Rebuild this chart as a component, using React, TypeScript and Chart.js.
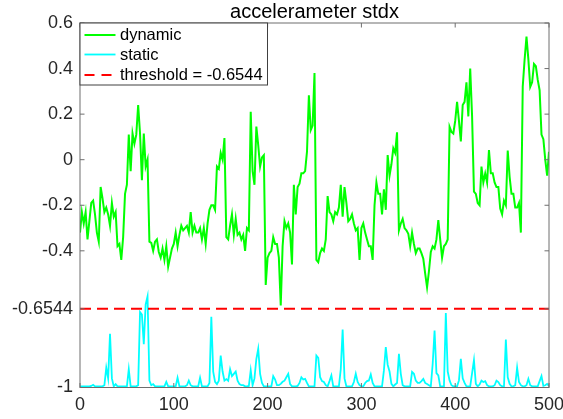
import React, { useEffect, useRef } from 'react';
import { Chart, registerables } from 'chart.js';

Chart.register(...registerables);

const TITLE = 'accelerameter stdx';
const SAMPLE_STEP = 2;
const THRESHOLD = -0.6544;
const seriesNames = ['dynamic', 'static', 'threshold = -0.6544'];
const xTicks = [0, 100, 200, 300, 400, 500];
const xTickLabels = ['0', '100', '200', '300', '400', '500'];
const yTicks = [-1, -0.6544, -0.4, -0.2, 0, 0.2, 0.4, 0.6];
const yTickLabels = ['-1', '-0.6544', '-0.4', '-0.2', '0', '0.2', '0.4', '0.6'];

const dynamicValues = [
  -0.32, -0.23, -0.28, -0.23, -0.35, -0.27, -0.19, -0.18, -0.24, -0.32,
  -0.36, -0.12, -0.17, -0.23, -0.21, -0.24, -0.29, -0.19, -0.25, -0.23,
  -0.38, -0.37, -0.44, -0.34, -0.15, -0.11, 0.11, -0.05, 0.115, 0.07,
  0.11, 0.24, 0.115, -0.09, 0.115, -0.03, 0.0, -0.36, -0.365, -0.40,
  -0.36, -0.35, -0.405, -0.43, -0.39, -0.44, -0.38, -0.47, -0.43, -0.39,
  -0.37, -0.32, -0.38, -0.33, -0.29, -0.31, -0.30, -0.29, -0.32, -0.23,
  -0.32, -0.29, -0.32, -0.32, -0.30, -0.35, -0.30, -0.37, -0.28, -0.22,
  -0.20, -0.20, -0.22, -0.03, -0.04, 0.03, 0.0, 0.095, -0.34, -0.35,
  -0.29, -0.24, -0.33, -0.26, -0.33, -0.32, -0.35, -0.33, -0.40, -0.30,
  -0.31, 0.21, -0.05, -0.11, 0.145, 0.064, -0.03, 0.01, 0.02, -0.55,
  -0.43, -0.41, -0.40, -0.34, -0.37, -0.37, -0.43, -0.64, -0.38, -0.27,
  -0.30, -0.28, -0.32, -0.46, -0.11, -0.24, -0.12, -0.105, -0.06, -0.06,
  -0.05, 0.035, 0.283, 0.13, 0.15, 0.38, -0.44, -0.45, -0.41, -0.39,
  -0.40, -0.35, -0.16, -0.23, -0.24, -0.27, -0.23, -0.24, -0.21, -0.11,
  -0.25, -0.12, -0.19, -0.27, -0.26, -0.24, -0.28, -0.31, -0.30, -0.44,
  -0.30, -0.28, -0.32, -0.35, -0.38, -0.38, -0.44, -0.20, -0.10, -0.15,
  -0.15, -0.24, -0.13, -0.22, 0.02, -0.07, -0.02, 0.05, 0.03, 0.12,
  -0.31, -0.28, -0.26, -0.30, -0.31, -0.325, -0.38, -0.32, -0.37, -0.41,
  -0.39, -0.39, -0.41, -0.435, -0.50, -0.56, -0.49, -0.405, -0.38, -0.39,
  -0.35, -0.265, -0.35, -0.43, -0.38, -0.37, -0.35, 0.144, 0.122, 0.115,
  0.17, 0.254, 0.17, 0.08, 0.24, 0.254, 0.34, 0.19, 0.40, 0.19,
  -0.14, -0.15, -0.19, -0.20, -0.03, -0.10, -0.06, -0.10, 0.042, -0.06,
  -0.06, -0.10, -0.12, -0.12, -0.215, -0.24, -0.18, -0.20, 0.04, -0.075,
  -0.15, -0.15, -0.21, -0.21, -0.19, -0.32, 0.32, 0.44, 0.54, 0.44,
  0.32, 0.34, 0.42, 0.41, 0.35, 0.305, 0.11, 0.09, 0.0, -0.07,
  0.035,
];

const staticValues = [
  -0.995, -0.995, -0.995, -0.995, -0.995, -0.995, -0.993, -0.988, -0.995, -0.995,
  -0.995, -0.995, -0.995, -0.99, -0.913, -0.96, -0.764, -0.96, -0.995, -0.985,
  -0.995, -0.995, -0.995, -0.995, -0.995, -0.995, -0.92, -0.995, -0.995, -0.995,
  -0.995, -0.99, -0.669, -0.68, -0.81, -0.635, -0.60, -0.97, -0.99, -0.985,
  -0.995, -0.995, -0.995, -0.995, -0.995, -0.995, -0.975, -0.995, -0.995, -0.995,
  -0.995, -0.995, -0.957, -0.995, -0.995, -0.995, -0.995, -0.99, -0.97, -0.99,
  -0.995, -0.995, -0.995, -0.995, -0.957, -0.995, -0.995, -0.995, -0.995, -0.98,
  -0.69, -0.93, -0.975, -0.985, -0.97, -0.86, -0.93, -0.97, -0.963, -0.97,
  -0.92, -0.95, -0.94, -0.93, -0.97, -0.985, -0.99, -0.99, -0.995, -0.995,
  -0.993, -0.925, -0.99, -0.96, -0.875, -0.83, -0.94, -0.98, -0.995, -0.995,
  -0.995, -0.995, -0.995, -0.95, -0.965, -0.99, -0.99, -0.984, -0.975, -0.97,
  -0.955, -0.94, -0.985, -0.995, -0.995, -0.995, -0.993, -0.98, -0.955, -0.965,
  -0.962, -0.98, -0.995, -0.995, -0.995, -0.995, -0.86, -0.87, -0.955, -0.972,
  -0.976, -0.99, -0.995, -0.972, -0.947, -0.995, -0.995, -0.995, -0.995, -0.92,
  -0.746, -0.96, -0.995, -0.995, -0.995, -0.995, -0.976, -0.94, -0.976, -0.99,
  -0.995, -0.995, -0.98, -0.972, -0.969, -0.943, -0.98, -0.995, -0.995, -0.995,
  -0.995, -0.995, -0.925, -0.823, -0.90, -0.93, -0.984, -0.995, -0.987, -0.98,
  -0.852, -0.94, -0.99, -0.995, -0.995, -0.995, -0.995, -0.932, -0.94, -0.97,
  -0.98, -0.98, -0.972, -0.962, -0.98, -0.985, -0.99, -0.995, -0.896, -0.75,
  -0.937, -0.947, -0.995, -0.995, -0.995, -0.673, -0.93, -0.969, -0.99, -0.995,
  -0.995, -0.995, -0.969, -0.874, -0.96, -0.98, -0.995, -0.995, -0.995, -0.937,
  -0.88, -0.984, -0.995, -0.987, -0.97, -0.976, -0.972, -0.99, -0.995, -0.995,
  -0.995, -0.99, -0.97, -0.976, -0.99, -0.995, -0.995, -0.79, -0.955, -0.984,
  -0.995, -0.995, -0.99, -0.913, -0.976, -0.99, -0.995, -0.995, -0.99, -0.962,
  -0.99, -0.995, -0.995, -0.995, -0.995, -0.972, -0.95, -0.993, -0.99, -0.984,
  -0.993,
];

const FONT = "'Liberation Sans', Arial, Helvetica, sans-serif";
const GREEN = '#00ff00';
const CYAN = '#00ffff';
const RED = '#ff0000';
const DASH = [11, 6];

const framePlugin = {
  id: 'matlabFrame',
  afterDatasetsDraw(chart: any) {
    const { ctx, chartArea: a, scales } = chart;
    ctx.save();
    // axes box
    ctx.strokeStyle = '#6e6e6e';
    ctx.lineWidth = 1;
    ctx.setLineDash([]);
    ctx.strokeRect(a.left, a.top, a.right - a.left, a.bottom - a.top);
    // inward ticks
    const tl = 4.5;
    ctx.beginPath();
    xTicks.forEach((v) => {
      const px = scales.x.getPixelForValue(v);
      ctx.moveTo(px, a.bottom);
      ctx.lineTo(px, a.bottom - tl);
      ctx.moveTo(px, a.top);
      ctx.lineTo(px, a.top + tl);
    });
    yTicks.forEach((v) => {
      const py = scales.y.getPixelForValue(v);
      ctx.moveTo(a.left, py);
      ctx.lineTo(a.left + tl, py);
      ctx.moveTo(a.right, py);
      ctx.lineTo(a.right - tl, py);
    });
    ctx.stroke();

    // title
    ctx.fillStyle = '#000000';
    ctx.font = `20px ${FONT}`;
    ctx.textAlign = 'center';
    ctx.textBaseline = 'alphabetic';
    ctx.fillText(TITLE, (a.left + a.right) / 2, 18);

    // legend
    const lx = a.left;
    const ly = a.top;
    const lw = 187.5;
    const lh = 62;
    ctx.fillStyle = '#ffffff';
    ctx.fillRect(lx, ly, lw, lh);
    ctx.strokeStyle = '#404040';
    ctx.lineWidth = 1;
    ctx.strokeRect(lx, ly, lw, lh);
    const rows = [12, 31.5, 52];
    const colors = [GREEN, CYAN, RED];
    const widths = [2, 1.8, 2];
    ctx.font = `16.5px ${FONT}`;
    ctx.textAlign = 'left';
    ctx.textBaseline = 'middle';
    seriesNames.forEach((name, i) => {
      const y = ly + rows[i];
      ctx.strokeStyle = colors[i];
      ctx.lineWidth = widths[i];
      ctx.setLineDash(i === 2 ? [10, 7] : []);
      ctx.beginPath();
      ctx.moveTo(lx + 4.5, y);
      ctx.lineTo(lx + (i === 2 ? 32 : 35.5), y);
      ctx.stroke();
      ctx.setLineDash([]);
      ctx.fillStyle = '#000000';
      ctx.fillText(name, lx + 40, y + 0.5);
    });
    ctx.restore();
  },
};

export default function App() {
  const canvasRef = useRef<HTMLCanvasElement | null>(null);

  useEffect(() => {
    const canvas = canvasRef.current;
    if (!canvas) return;
    Chart.defaults.font.family = FONT;

    const chart = new Chart(canvas, {
      type: 'line',
      data: {
        datasets: [
          {
            label: seriesNames[0],
            data: dynamicValues.map((y, i) => ({ x: i * SAMPLE_STEP, y })),
            borderColor: GREEN,
            borderWidth: 2,
            pointRadius: 0,
            tension: 0,
            fill: false,
            order: 2,
          },
          {
            label: seriesNames[1],
            data: staticValues.map((y, i) => ({ x: i * SAMPLE_STEP, y })),
            borderColor: CYAN,
            borderWidth: 1.8,
            pointRadius: 0,
            tension: 0,
            fill: false,
            order: 1,
          },
          {
            label: seriesNames[2],
            data: [
              { x: xTicks[0], y: THRESHOLD },
              { x: xTicks[xTicks.length - 1], y: THRESHOLD },
            ],
            borderColor: RED,
            borderWidth: 2,
            borderDash: DASH,
            pointRadius: 0,
            tension: 0,
            fill: false,
            order: 0,
          },
        ],
      },
      options: {
        animation: false,
        responsive: false,
        devicePixelRatio: 1,
        layout: { padding: { top: 23, right: 14, left: 0, bottom: 0 } },
        plugins: {
          legend: { display: false },
          title: { display: false },
          tooltip: { enabled: false },
        },
        scales: {
          x: {
            type: 'linear',
            min: 0,
            max: 500,
            grid: { display: false, drawTicks: false },
            border: { display: false },
            ticks: {
              padding: 7,
              color: '#262626',
              font: { family: FONT, size: 18 },
              maxRotation: 0,
              autoSkip: false,
              callback: (_v: any, i: number) => xTickLabels[i],
            },
            afterBuildTicks: (s: any) => {
              s.ticks = xTicks.map((v) => ({ value: v }));
            },
            afterFit: (s: any) => {
              s.height = 31.5;
              s.paddingLeft = 0;
              s.paddingRight = 0;
            },
          },
          y: {
            type: 'linear',
            min: -1,
            max: 0.6,
            grid: { display: false, drawTicks: false },
            border: { display: false },
            ticks: {
              padding: 7,
              color: '#262626',
              font: { family: FONT, size: 18 },
              autoSkip: false,
              callback: (_v: any, i: number) => yTickLabels[i],
            },
            afterBuildTicks: (s: any) => {
              s.ticks = yTicks.map((v) => ({ value: v }));
            },
            afterFit: (s: any) => {
              s.width = 80;
              s.paddingTop = 0;
              s.paddingBottom = 0;
            },
          },
        },
      } as any,
      plugins: [framePlugin],
    });

    return () => chart.destroy();
  }, []);

  return (
    <div style={{ position: 'absolute', left: 0, top: 0, width: 563, height: 419, background: '#ffffff' }}>
      <canvas ref={canvasRef} width={563} height={419} style={{ display: 'block', width: 563, height: 419 }} />
    </div>
  );
}
